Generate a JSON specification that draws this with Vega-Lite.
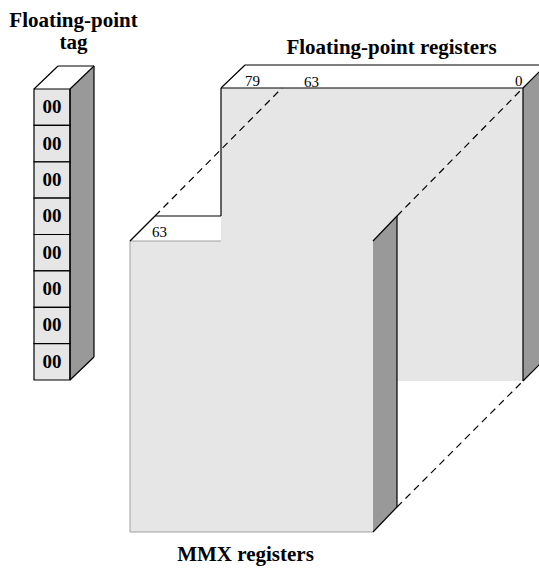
{
  "$schema": "https://vega.github.io/schema/vega-lite/v6.json",
  "width": 539,
  "height": 568,
  "padding": 0,
  "autosize": {"type": "fit", "contains": "padding"},
  "background": "#ffffff",
  "config": {"view": {"stroke": null}},
  "datasets": {
    "faces": [
      {"block": "fp", "shape": "fp_top", "face": "top", "x": 221, "y": 88, "y2": 88},
      {"block": "fp", "shape": "fp_top", "face": "top", "x": 245, "y": 65, "y2": 88},
      {"block": "fp", "shape": "fp_top", "face": "top", "x": 523, "y": 65, "y2": 88},
      {"block": "fp", "shape": "fp_top", "face": "top", "x": 546, "y": 65, "y2": 65},
      {"block": "fp", "shape": "fp_side", "face": "side", "x": 523, "y": 88, "y2": 381},
      {"block": "fp", "shape": "fp_side", "face": "side", "x": 546, "y": 65, "y2": 358},
      {"block": "tag", "shape": "tag_top", "face": "top", "x": 34, "y": 89, "y2": 89},
      {"block": "tag", "shape": "tag_top", "face": "top", "x": 58, "y": 66, "y2": 89},
      {"block": "tag", "shape": "tag_top", "face": "top", "x": 70, "y": 66, "y2": 89},
      {"block": "tag", "shape": "tag_top", "face": "top", "x": 94, "y": 66, "y2": 66},
      {"block": "tag", "shape": "tag_side", "face": "side", "x": 70, "y": 89, "y2": 380},
      {"block": "tag", "shape": "tag_side", "face": "side", "x": 94, "y": 66, "y2": 357},
      {"block": "mmx", "shape": "mmx_top", "face": "top", "x": 130, "y": 241, "y2": 241},
      {"block": "mmx", "shape": "mmx_top", "face": "top", "x": 155, "y": 216, "y2": 241},
      {"block": "mmx", "shape": "mmx_top", "face": "top", "x": 221, "y": 216, "y2": 241},
      {"block": "mmx", "shape": "mmx_side", "face": "side", "x": 373, "y": 241, "y2": 532},
      {"block": "mmx", "shape": "mmx_side", "face": "side", "x": 397, "y": 216, "y2": 507}
    ],
    "fronts": [
      {"block": "fp", "x": 221, "x2": 523, "y": 88, "y2": 381},
      {"block": "mmx", "x": 130, "x2": 373, "y": 241, "y2": 532}
    ],
    "cells": [
      {"label": "00", "y": 89, "y2": 125.4},
      {"label": "00", "y": 125.4, "y2": 161.8},
      {"label": "00", "y": 161.8, "y2": 198.1},
      {"label": "00", "y": 198.1, "y2": 234.5},
      {"label": "00", "y": 234.5, "y2": 270.9},
      {"label": "00", "y": 270.9, "y2": 307.3},
      {"label": "00", "y": 307.3, "y2": 343.6},
      {"label": "00", "y": 343.6, "y2": 380}
    ],
    "edges": [
      {"block": "tag", "kind": "solid", "x": 34, "y": 89, "x2": 58, "y2": 66},
      {"block": "tag", "kind": "solid", "x": 58, "y": 66, "x2": 94, "y2": 66},
      {"block": "tag", "kind": "solid", "x": 94, "y": 66, "x2": 70, "y2": 89},
      {"block": "tag", "kind": "solid", "x": 70, "y": 89, "x2": 70, "y2": 380},
      {"block": "tag", "kind": "solid", "x": 94, "y": 66, "x2": 94, "y2": 357},
      {"block": "tag", "kind": "solid", "x": 94, "y": 357, "x2": 70, "y2": 380},
      {"block": "fp", "kind": "solid", "x": 221, "y": 88, "x2": 245, "y2": 65},
      {"block": "fp", "kind": "solid", "x": 245, "y": 65, "x2": 546, "y2": 65},
      {"block": "fp", "kind": "solid", "x": 221, "y": 88, "x2": 523, "y2": 88},
      {"block": "fp", "kind": "solid", "x": 523, "y": 88, "x2": 546, "y2": 65},
      {"block": "fp", "kind": "solid", "x": 221, "y": 88, "x2": 221, "y2": 216},
      {"block": "fp", "kind": "solid", "x": 523, "y": 88, "x2": 523, "y2": 381},
      {"block": "fp", "kind": "solid", "x": 523, "y": 381, "x2": 546, "y2": 358},
      {"block": "fp", "kind": "dashed", "x": 155, "y": 216, "x2": 282, "y2": 88},
      {"block": "fp", "kind": "dashed", "x": 397, "y": 216, "x2": 523, "y2": 88},
      {"block": "fp", "kind": "dashed", "x": 397, "y": 507, "x2": 523, "y2": 381},
      {"block": "mmx", "kind": "solid", "x": 130, "y": 241, "x2": 155, "y2": 216},
      {"block": "mmx", "kind": "solid", "x": 155, "y": 216, "x2": 221, "y2": 216},
      {"block": "mmx", "kind": "solid", "x": 373, "y": 241, "x2": 397, "y2": 216},
      {"block": "mmx", "kind": "solid", "x": 397, "y": 216, "x2": 397, "y2": 507},
      {"block": "mmx", "kind": "solid", "x": 373, "y": 532, "x2": 397, "y2": 507},
      {"block": "mmx", "kind": "faint", "x": 130, "y": 241, "x2": 221, "y2": 241},
      {"block": "mmx", "kind": "faint", "x": 130, "y": 241, "x2": 130, "y2": 532},
      {"block": "mmx", "kind": "faint", "x": 130, "y": 532, "x2": 373, "y2": 532}
    ],
    "titles": [
      {"label": "Floating-point", "x": 73.5, "y": 27},
      {"label": "tag", "x": 73.5, "y": 49},
      {"label": "Floating-point registers", "x": 391.5, "y": 54},
      {"label": "MMX registers", "x": 245.5, "y": 561}
    ],
    "bits": [
      {"label": "79", "x": 245, "y": 86},
      {"label": "63", "x": 304, "y": 87},
      {"label": "0", "x": 515, "y": 86},
      {"label": "63", "x": 152, "y": 237}
    ]
  },
  "layer": [
    {
      "data": {"name": "fronts"},
      "transform": [{"filter": "datum.block == 'fp'"}],
      "mark": {"type": "rect", "fill": "#e6e6e6", "clip": true},
      "encoding": {
        "x": {"field": "x", "type": "quantitative", "scale": {"domain": [0, 539], "nice": false, "zero": false}, "axis": null},
        "x2": {"field": "x2"},
        "y": {"field": "y", "type": "quantitative", "scale": {"domain": [0, 568], "nice": false, "zero": false, "reverse": true}, "axis": null},
        "y2": {"field": "y2"}
      }
    },
    {
      "data": {"name": "faces"},
      "transform": [{"filter": "datum.block != 'mmx'"}],
      "mark": {"type": "area", "orient": "vertical", "clip": true, "interpolate": "linear"},
      "encoding": {
        "x": {"field": "x", "type": "quantitative", "axis": null},
        "y": {"field": "y", "type": "quantitative", "axis": null},
        "y2": {"field": "y2"},
        "detail": {"field": "shape"},
        "color": {"field": "face", "type": "nominal", "scale": {"domain": ["top", "side"], "range": ["#ffffff", "#999999"]}, "legend": null}
      }
    },
    {
      "data": {"name": "cells"},
      "mark": {"type": "rect", "fill": "#e6e6e6", "stroke": "#000000", "strokeWidth": 1.2},
      "encoding": {
        "x": {"datum": 34, "type": "quantitative"},
        "x2": {"datum": 70},
        "y": {"field": "y", "type": "quantitative"},
        "y2": {"field": "y2"}
      }
    },
    {
      "data": {"name": "edges"},
      "transform": [{"filter": "datum.block != 'mmx' && datum.kind == 'solid'"}],
      "mark": {"type": "rule", "color": "#000000", "strokeWidth": 1.2, "clip": true},
      "encoding": {
        "x": {"field": "x", "type": "quantitative"},
        "y": {"field": "y", "type": "quantitative"},
        "x2": {"field": "x2"},
        "y2": {"field": "y2"}
      }
    },
    {
      "data": {"name": "edges"},
      "transform": [{"filter": "datum.kind == 'dashed'"}],
      "mark": {"type": "rule", "color": "#000000", "strokeWidth": 1.2, "strokeDash": [7, 5]},
      "encoding": {
        "x": {"field": "x", "type": "quantitative"},
        "y": {"field": "y", "type": "quantitative"},
        "x2": {"field": "x2"},
        "y2": {"field": "y2"}
      }
    },
    {
      "data": {"name": "fronts"},
      "transform": [{"filter": "datum.block == 'mmx'"}],
      "mark": {"type": "rect", "fill": "#e6e6e6"},
      "encoding": {
        "x": {"field": "x", "type": "quantitative"},
        "x2": {"field": "x2"},
        "y": {"field": "y", "type": "quantitative"},
        "y2": {"field": "y2"}
      }
    },
    {
      "data": {"name": "faces"},
      "transform": [{"filter": "datum.block == 'mmx'"}],
      "mark": {"type": "area", "orient": "vertical", "interpolate": "linear"},
      "encoding": {
        "x": {"field": "x", "type": "quantitative"},
        "y": {"field": "y", "type": "quantitative"},
        "y2": {"field": "y2"},
        "detail": {"field": "shape"},
        "color": {"field": "face", "type": "nominal", "legend": null}
      }
    },
    {
      "data": {"name": "edges"},
      "transform": [{"filter": "datum.kind == 'faint'"}],
      "mark": {"type": "rule", "color": "#a0a0a0", "strokeWidth": 1},
      "encoding": {
        "x": {"field": "x", "type": "quantitative"},
        "y": {"field": "y", "type": "quantitative"},
        "x2": {"field": "x2"},
        "y2": {"field": "y2"}
      }
    },
    {
      "data": {"name": "edges"},
      "transform": [{"filter": "datum.block == 'mmx' && datum.kind == 'solid'"}],
      "mark": {"type": "rule", "color": "#000000", "strokeWidth": 1.2},
      "encoding": {
        "x": {"field": "x", "type": "quantitative"},
        "y": {"field": "y", "type": "quantitative"},
        "x2": {"field": "x2"},
        "y2": {"field": "y2"}
      }
    },
    {
      "data": {"name": "cells"},
      "transform": [{"calculate": "(datum.y + datum.y2) / 2", "as": "ym"}],
      "mark": {"type": "text", "font": "Liberation Serif", "fontWeight": "bold", "fontSize": 19, "align": "center", "baseline": "middle", "color": "#000000"},
      "encoding": {
        "x": {"datum": 52, "type": "quantitative"},
        "y": {"field": "ym", "type": "quantitative"},
        "text": {"field": "label"}
      }
    },
    {
      "data": {"name": "titles"},
      "mark": {"type": "text", "font": "Liberation Serif", "fontWeight": "bold", "fontSize": 21, "align": "center", "baseline": "alphabetic", "color": "#000000"},
      "encoding": {
        "x": {"field": "x", "type": "quantitative"},
        "y": {"field": "y", "type": "quantitative"},
        "text": {"field": "label"}
      }
    },
    {
      "data": {"name": "bits"},
      "mark": {"type": "text", "font": "Liberation Serif", "fontSize": 15, "align": "left", "baseline": "alphabetic", "color": "#000000"},
      "encoding": {
        "x": {"field": "x", "type": "quantitative"},
        "y": {"field": "y", "type": "quantitative"},
        "text": {"field": "label"}
      }
    }
  ]
}
